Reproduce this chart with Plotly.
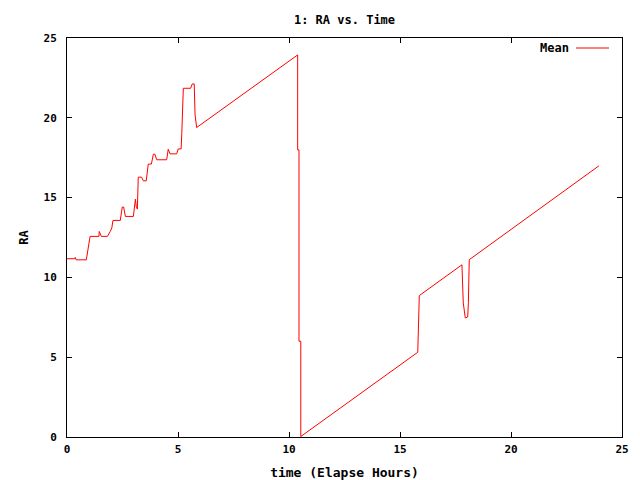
import plotly.graph_objects as go

# Elapsed time (hours) and mean RA values
time_hours = [0.0, 0.33, 0.37, 0.41, 0.87, 0.95, 1.04, 1.44, 1.45, 1.55, 1.82, 1.94, 2.02, 2.07,
              2.40, 2.49, 2.55, 2.63, 2.99, 3.08, 3.12, 3.17, 3.21, 3.36, 3.44, 3.57, 3.66,
              3.80, 3.89, 3.96, 4.04, 4.49, 4.56, 4.64, 4.94, 5.01, 5.14, 5.17, 5.21, 5.24,
              5.57, 5.64, 5.73, 5.77, 5.84, 10.39, 10.39, 10.45, 10.45, 10.53, 10.53, 15.80,
              15.87, 17.79, 17.85, 17.94, 18.05, 18.08, 18.12, 23.96]
ra_mean = [11.17, 11.17, 11.25, 11.10, 11.10, 11.94, 12.57, 12.57, 12.88, 12.57, 12.57, 12.86,
           13.10, 13.57, 13.57, 14.41, 14.41, 13.82, 13.82, 14.90, 14.44, 14.28, 16.28, 16.28,
           16.05, 16.05, 17.10, 17.10, 17.72, 17.72, 17.37, 17.37, 18.03, 17.74, 17.74, 18.05,
           18.05, 19.00, 20.85, 21.85, 21.85, 22.12, 22.12, 20.18, 19.39, 23.94, 17.99, 17.99,
           6.00, 6.00, 0.03, 5.31, 8.86, 10.79, 8.40, 7.46, 7.52, 8.42, 11.11, 16.99]

series_name = "Mean"
title_text = "1: RA vs. Time"
x_title = "time (Elapse Hours)"
y_title = "RA"
tick_vals = [0, 5, 10, 15, 20, 25]

FONT = "DejaVu Sans Mono"
OFF = 8  # page body margin
W, H = 640 - OFF, 480 - OFF
L, R, T, B = 67 - OFF, 18, 38 - OFF, 43
pw, ph = W - L - R, H - T - B

fig = go.Figure()
fig.add_trace(go.Scatter(x=time_hours, y=ra_mean, mode="lines", name=series_name,
                         line=dict(color="#ff0000", width=1), showlegend=False))

axis_common = dict(range=[0, 25], tickvals=tick_vals, ticks="inside", ticklen=5,
                   tickcolor="black", showline=True, linecolor="black", linewidth=1,
                   mirror="ticks", showgrid=False, zeroline=False, automargin=False,
                   tickfont=dict(family=FONT, size=11, color="black", weight="bold"))

fig.update_layout(
    width=W, height=H,
    margin=dict(l=L, r=R, t=T, b=B, pad=0, autoexpand=False),
    paper_bgcolor="white", plot_bgcolor="white",
    title=dict(text=title_text, x=0.5, xref="paper", y=1 - (20 - OFF) / H, yref="container",
               xanchor="center", yanchor="middle",
               font=dict(family=FONT, size=12, color="black", weight="bold")),
    xaxis=dict(axis_common, ticklabelstandoff=2,
               title=dict(text=x_title, standoff=12,
                          font=dict(family=FONT, size=13, color="black", weight="bold"))),
    yaxis=dict(axis_common, ticklabelstandoff=7,
               title=dict(text=y_title, standoff=12,
                          font=dict(family=FONT, size=12, color="black", weight="bold"))),
    showlegend=False,
)

# gnuplot-style key: text on the left, line sample on the right
key_y = (480 - B - 48) / ph
fig.add_annotation(x=(571 - 67) / pw, y=key_y, xref="paper", yref="paper", text=series_name,
                   showarrow=False, xanchor="right", yanchor="middle",
                   font=dict(family=FONT, size=12, color="black", weight="bold"))
fig.add_shape(type="line", xref="paper", yref="paper",
              x0=(576 - 67) / pw, x1=(609 - 67) / pw, y0=key_y, y1=key_y,
              line=dict(color="#ff0000", width=1))

fig.write_html("out.html")
